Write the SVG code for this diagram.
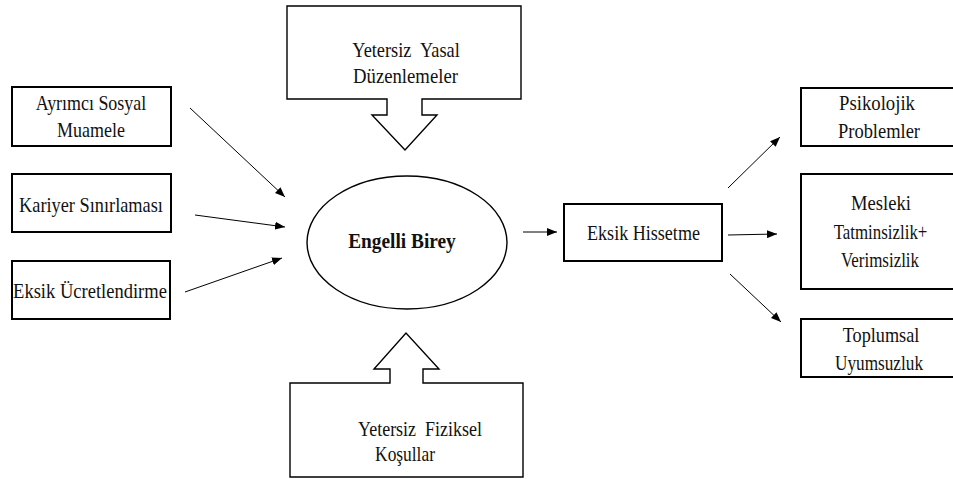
<svg xmlns="http://www.w3.org/2000/svg" width="953" height="479" viewBox="0 0 953 479">
<defs>
<marker id="ah" viewBox="0 0 10 8" refX="10" refY="4" markerWidth="10" markerHeight="8" markerUnits="userSpaceOnUse" orient="auto">
<path d="M0,0 L10,4 L0,8 Z" fill="#000"/>
</marker>
</defs>
<style>
.box{fill:#fff;stroke:#000;stroke-width:2}
.blk{fill:#fff;stroke:#000;stroke-width:1.4}
.c{fill:none;stroke:#000;stroke-width:1;marker-end:url(#ah)}
</style>
<rect width="953" height="479" fill="#fff"/>
<g font-family="'Liberation Serif'" font-size="22" fill="#111" text-anchor="middle">
<g id="ayrimci">
<rect class="box" x="12" y="87" width="159" height="59"/>
<text transform="translate(91,110) scale(0.815,1)">Ayrımcı Sosyal</text>
<text transform="translate(91,137) scale(0.818,1)">Muamele</text>
</g>
<g id="kariyer">
<rect class="box" x="12" y="174" width="159" height="58"/>
<text transform="translate(91,212) scale(0.833,1)">Kariyer Sınırlaması</text>
</g>
<g id="ucret">
<rect class="box" x="12" y="261" width="158" height="58"/>
<text transform="translate(90,298) scale(0.843,1)">Eksik Ücretlendirme</text>
</g>

<g id="yasal">
<path class="blk" d="M287,6 H521 V99 H422 V115 H437 L405,150 L372,115 H387 V99 H287 Z"/>
<text xml:space="preserve" transform="translate(406,57) scale(0.833,1)">Yetersiz  Yasal</text>
<text transform="translate(405.5,83) scale(0.851,1)">Düzenlemeler</text>
</g>

<g id="fiziksel">
<path class="blk" d="M290,383 H390 V369 H374 L406,333 L439,369 H423 V383 H523 V477 H290 Z"/>
<text xml:space="preserve" transform="translate(420,436) scale(0.818,1)">Yetersiz  Fiziksel</text>
<text transform="translate(405,461) scale(0.79,1)">Koşullar</text>
</g>

<g id="engelli">
<ellipse cx="407" cy="242.5" rx="100" ry="66.5" fill="#fff" stroke="#000" stroke-width="1.4"/>
<text font-weight="bold" transform="translate(402,248) scale(0.879,1)">Engelli Birey</text>
</g>

<g id="eksik">
<rect class="box" x="564" y="204" width="158" height="57"/>
<text transform="translate(643.5,240) scale(0.822,1)">Eksik Hissetme</text>
</g>

<g id="psikolojik">
<rect class="box" x="801" y="88" width="160" height="58"/>
<text transform="translate(877,110) scale(0.851,1)">Psikolojik</text>
<text transform="translate(879,138) scale(0.839,1)">Problemler</text>
</g>
<g id="mesleki">
<rect class="box" x="801" y="174" width="160" height="115"/>
<text transform="translate(881,210) scale(0.846,1)">Mesleki</text>
<text transform="translate(880.5,239) scale(0.768,1)">Tatminsizlik+</text>
<text transform="translate(880,267) scale(0.77,1)">Verimsizlik</text>
</g>
<g id="toplumsal">
<rect class="box" x="801" y="319" width="160" height="58"/>
<text transform="translate(881,342) scale(0.829,1)">Toplumsal</text>
<text transform="translate(879,370) scale(0.783,1)">Uyumsuzluk</text>
</g>
</g>
<g id="connectors">
<line class="c" x1="190" y1="108" x2="285" y2="197"/>
<line class="c" x1="195" y1="215" x2="285" y2="227"/>
<line class="c" x1="185" y1="292" x2="282" y2="258"/>
<line class="c" x1="523" y1="232" x2="557" y2="232"/>
<line class="c" x1="728" y1="188" x2="780" y2="137"/>
<line class="c" x1="728" y1="235" x2="777" y2="234"/>
<line class="c" x1="730" y1="274" x2="781" y2="322"/>
</g>
</svg>
